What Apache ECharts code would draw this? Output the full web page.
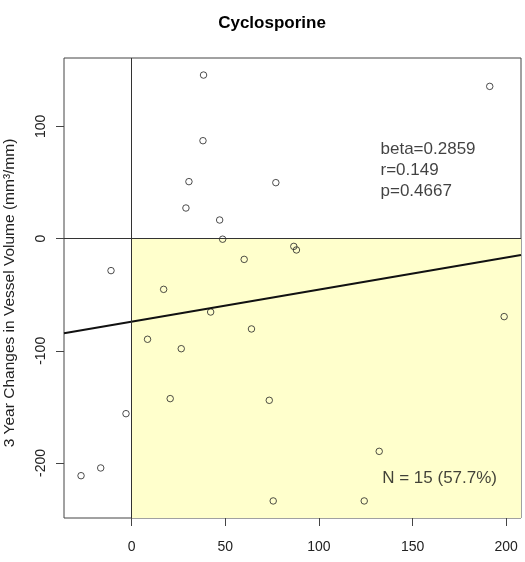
<!DOCTYPE html>
<html>
<head>
<meta charset="utf-8">
<script src="https://cdn.jsdelivr.net/npm/echarts@6/dist/echarts.min.js"></script>
<style>
  html, body { margin: 0; padding: 0; background: #fff; }
  #chart { width: 525px; height: 562px; }
</style>
</head>
<body>
<div id="chart"></div>
<script>
// values
var xVals = [38.4, 38.1, 30.6, 77.0, 29.0, 47.0, 48.6, 86.6, 88.0, 60.1, -11.0, 17.1,
             42.2, 64.0, 8.5, 26.5, 20.6, 73.5, -3.0, -16.5, -27.0, 75.6,
             191.2, 198.9, 132.2, 124.2];
var yVals = [145.8, 87.3, 50.8, 49.9, 27.3, 16.6, -0.5, -6.9, -10.1, -18.5, -28.5, -45.2,
             -65.4, -80.5, -89.7, -98.1, -142.6, -144.1, -156.0, -204.4, -211.3, -233.8,
             135.7, -69.5, -189.6, -233.8];
var xTicks = [0, 50, 100, 150, 200];
var yTicks = [-200, -100, 0, 100];
var xRange = [-36.1, 207.9];
var yRange = [-249, 161];
var beta = 0.2859, intercept = -74;
var statText = ['beta=0.2859', 'r=0.149', 'p=0.4667'];
var nText = 'N = 15 (57.7%)';

var points = [];
for (var i = 0; i < xVals.length; i++) {
    points.push([xVals[i], yVals[i]]);
}
var fitLine = [
    [xRange[0], intercept + beta * xRange[0]],
    [xRange[1], intercept + beta * xRange[1]]
];

var font = 'Liberation Sans, Arial, Helvetica, sans-serif';
var chart = echarts.init(document.getElementById('chart'));
var option = {
    backgroundColor: '#fff',
    animation: false,
    textStyle: { fontFamily: font },
    grid: {
        left: 64, right: 4, top: 58, bottom: 44,
        show: true, borderColor: '#444', borderWidth: 1, backgroundColor: 'transparent'
    },
    graphic: [
        {
            type: 'text', x: 272, y: 23,
            style: {
                text: 'Cyclosporine', font: 'bold 17px ' + font, fill: '#000',
                textAlign: 'center', textVerticalAlign: 'middle'
            }
        },
        {
            type: 'text', x: 10, y: 293, rotation: Math.PI / 2,
            style: {
                text: '3 Year Changes in Vessel Volume (mm³/mm)', font: '15.5px ' + font, fill: '#222',
                textAlign: 'center', textVerticalAlign: 'middle'
            }
        }
    ],
    xAxis: {
        type: 'value', min: xRange[0], max: xRange[1],
        splitLine: { show: false },
        axisLine: { show: false, onZero: false },
        axisTick: { show: true, length: 8, customValues: xTicks, lineStyle: { color: '#444' } },
        axisLabel: { customValues: xTicks, margin: 22, fontSize: 14, color: '#222', fontFamily: font }
    },
    yAxis: {
        type: 'value', min: yRange[0], max: yRange[1],
        splitLine: { show: false },
        axisLine: { show: false, onZero: false },
        axisTick: { show: true, length: 8, customValues: yTicks, lineStyle: { color: '#444' } },
        axisLabel: { customValues: yTicks, rotate: 90, margin: 16, fontSize: 14, color: '#222', fontFamily: font }
    },
    series: [
        {
            type: 'line', data: [], silent: true,
            markArea: {
                silent: true,
                itemStyle: { color: '#ffffcc' },
                data: [[{ coord: [0, 0] }, { coord: [xRange[1], yRange[0]] }]]
            },
            markLine: {
                silent: true, symbol: 'none', label: { show: false },
                lineStyle: { color: '#333', width: 1, type: 'solid' },
                data: [{ xAxis: 0 }, { yAxis: 0 }]
            }
        },
        {
            type: 'line', data: fitLine, symbol: 'none', silent: true,
            lineStyle: { color: '#111', width: 2 }
        },
        {
            type: 'scatter', data: points, symbol: 'circle', symbolSize: 6.5,
            itemStyle: { color: 'transparent', borderColor: '#222', borderWidth: 1 }
        },
        {
            type: 'scatter', symbolSize: 0, silent: true,
            data: [[132.9, 60.9]],
            label: {
                show: true, position: 'inside', align: 'left', verticalAlign: 'middle',
                formatter: statText.join('\n'), fontSize: 17, lineHeight: 21, color: '#111', fontFamily: font
            }
        },
        {
            type: 'scatter', symbolSize: 0, silent: true,
            data: [[133.8, -213.9]],
            label: {
                show: true, position: 'inside', align: 'left', verticalAlign: 'middle',
                formatter: nText, fontSize: 17, color: '#111', fontFamily: font
            }
        }
    ]
};
chart.setOption(option);
</script>
</body>
</html>
